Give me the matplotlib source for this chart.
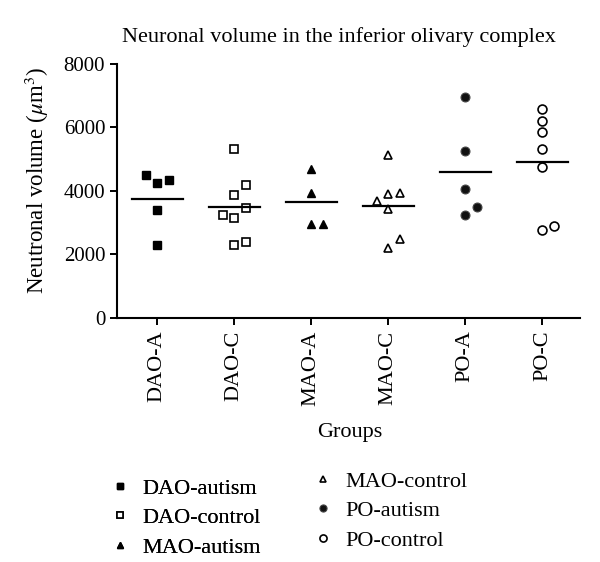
import matplotlib
matplotlib.use('Agg')
import matplotlib.pyplot as plt
import numpy as np
from matplotlib.lines import Line2D

plt.rcParams['font.family'] = ['Liberation Serif', 'DejaVu Serif']
plt.rcParams['mathtext.fontset'] = 'stix'

groups = ['DAO-A', 'DAO-C', 'MAO-A', 'MAO-C', 'PO-A', 'PO-C']
names = ['DAO-autism', 'DAO-control', 'MAO-autism', 'MAO-control', 'PO-autism', 'PO-control']

dao_a = [4490, 4260, 4330, 3390, 2290]
dao_c = [5310, 4190, 3880, 3470, 3240, 3160, 2310, 2390]
mao_a = [4690, 3930, 2970, 2970]
mao_c = [5130, 3900, 3940, 3680, 3440, 2480, 2190]
po_a = [6970, 5250, 4070, 3510, 3240]
po_c = [6590, 6210, 5850, 5330, 4770, 2760, 2890]

# horizontal spread of overlapping points (in category units)
jit_dao_a = [-0.15, 0, 0.15, 0, 0]
jit_dao_c = [0, 0.15, 0, 0.15, -0.15, 0, 0, 0.15]
jit_mao_a = [0, 0, 0, 0.15]
jit_mao_c = [0, 0, 0.15, -0.15, 0, 0.15, 0]
jit_po_a = [0, 0, 0, 0.15, 0]
jit_po_c = [0, 0, 0, 0, 0, 0, 0.15]

data = [dao_a, dao_c, mao_a, mao_c, po_a, po_c]
jits = [jit_dao_a, jit_dao_c, jit_mao_a, jit_mao_c, jit_po_a, jit_po_c]
styles = [
    dict(marker='s', mfc='black', mec='black', ms=5.4),
    dict(marker='s', mfc='white', mec='black', ms=5.4, mew=1.2),
    dict(marker='^', mfc='black', mec='black', ms=6.2),
    dict(marker='^', mfc='white', mec='black', ms=6.2, mew=1.2),
    dict(marker='o', mfc='#111111', mec='#444444', ms=6.4, mew=0.8),
    dict(marker='o', mfc='white', mec='black', ms=6.4, mew=1.2),
]

fig = plt.figure(figsize=(6, 5.62), dpi=100)
ax = fig.add_axes([0.195, 0.4342, 0.772, 0.452])

for i, (vals, jit, st) in enumerate(zip(data, jits, styles)):
    xs = i + np.array(jit)
    ax.plot(xs, vals, ls='none', **st)
    m = np.mean(vals)
    ax.plot([i - 0.33, i + 0.33], [m, m], color='black', lw=1.6)

ax.set_xlim(-0.52, 5.49)
ax.set_ylim(0, 8000)
ax.set_yticks([0, 2000, 4000, 6000, 8000])
ax.set_xticks(range(len(groups)))
ax.set_xticklabels(groups, rotation=90)
ax.tick_params(axis='both', width=1.4, length=5, direction='out')
ax.tick_params(axis='x', labelsize=16, pad=4)
ax.tick_params(axis='y', labelsize=15)
for s in ['top', 'right']:
    ax.spines[s].set_visible(False)
ax.spines['left'].set_linewidth(1.5)
ax.spines['bottom'].set_linewidth(1.5)

fig.text(0.565, 1 - 37 / 562, 'Neuronal volume in the inferior olivary complex',
         ha='center', va='center', fontsize=16)
fig.text(37 / 600, 1 - 181 / 562, 'Neutronal volume ($\\mu$m$^3$)',
         ha='center', va='center', rotation=90, fontsize=16.5)
fig.text(350 / 600, 1 - 433 / 562, 'Groups', ha='center', va='center', fontsize=16)

handles = [Line2D([], [], ls='none', **dict(st, ms=st['ms'] * 0.8)) for st in styles]
leg_kw = dict(loc='upper left', frameon=False, fontsize=16, handlelength=1.0,
              handletextpad=0.5, labelspacing=0.41, borderpad=0.4)
leg1 = fig.legend(handles[:3], names[:3],
                  bbox_to_anchor=(89 / 600, 1 - 458 / 562), **leg_kw)
fig.add_artist(leg1)
fig.legend(handles[3:], names[3:],
           bbox_to_anchor=(292 / 600, 1 - 451 / 562), **leg_kw)

fig.savefig('out.png', dpi=100)
